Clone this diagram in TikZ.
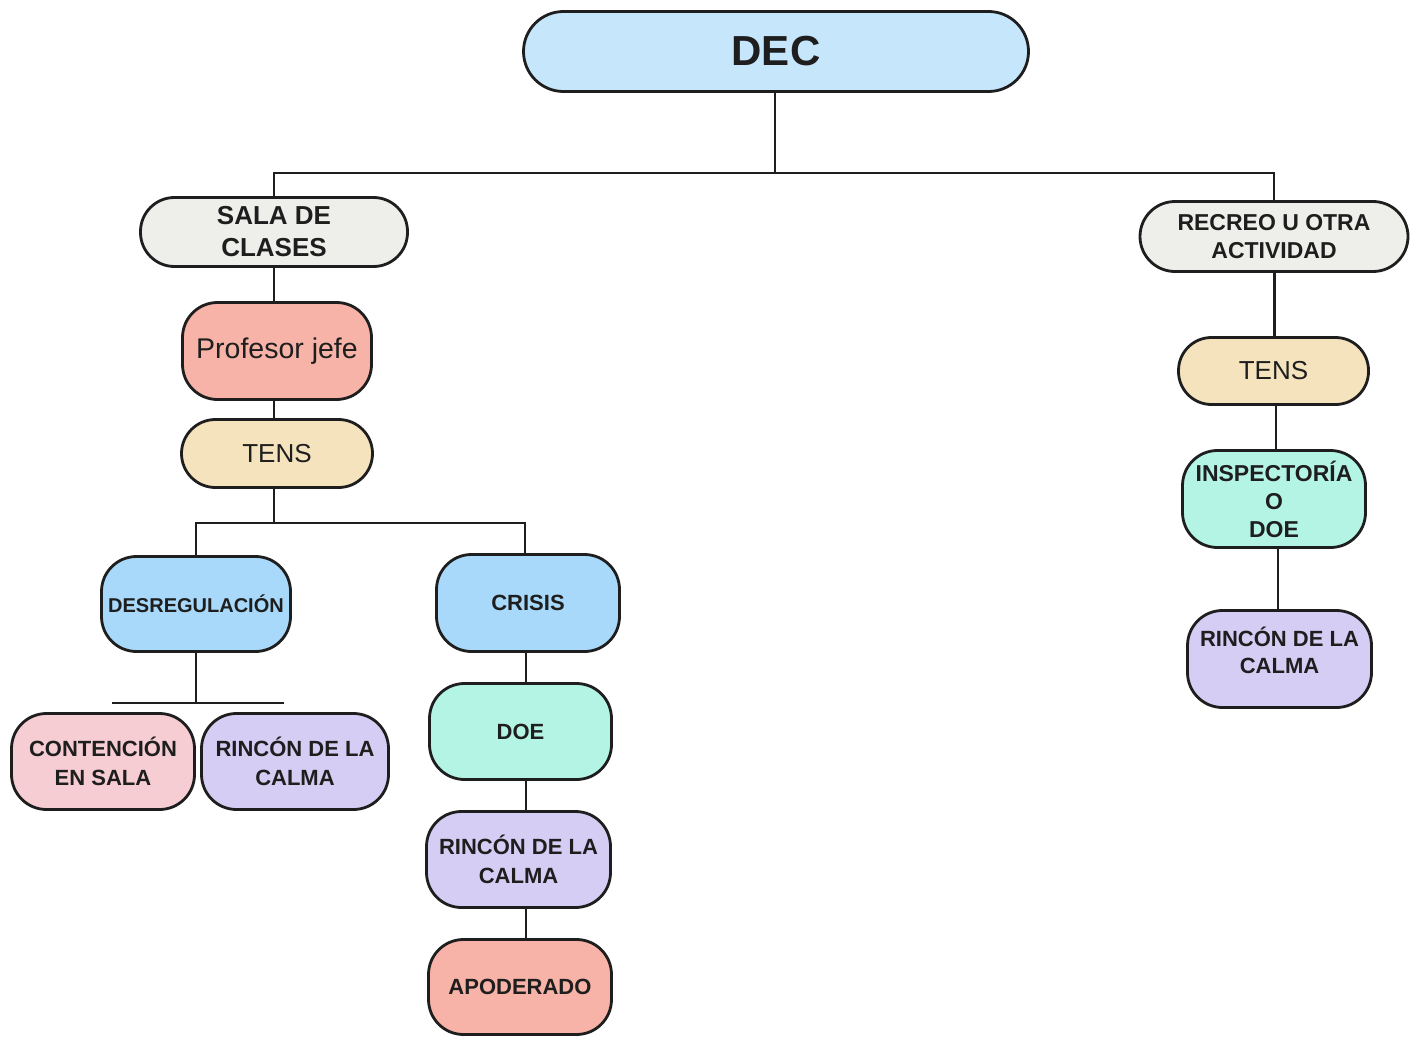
\documentclass[tikz,border=0pt]{standalone}
\usepackage{fontspec}
\setmainfont{Liberation Sans}
\definecolor{decblue}{HTML}{C5E6FB}
\definecolor{grayfill}{HTML}{EEEEEA}
\definecolor{salmon}{HTML}{F7B3A7}
\definecolor{tensfill}{HTML}{F5E3BD}
\definecolor{bluefill}{HTML}{A8D9FA}
\definecolor{pinkfill}{HTML}{F6CDD3}
\definecolor{lavfill}{HTML}{D6CDF4}
\definecolor{mintfill}{HTML}{B4F4E4}
\definecolor{ink}{HTML}{1E1E1E}
\tikzset{
  box/.style={draw=ink, line width=2.8pt, inner sep=0pt, outer sep=0pt, align=center, text=ink},
  fs/.style n args={2}{font=\fontsize{#1}{#2}\selectfont\bfseries},
  fr/.style={font=\fontsize{#1}{#1}\selectfont},
  wire/.style={draw=ink, line width=2.8pt}
}
\begin{document}
\begin{tikzpicture}[x=1pt,y=-1pt]
\useasboundingbox (0,0) rectangle (1414,1038);
% top
\node[box, fill=decblue, minimum width=505pt, minimum height=80pt, rounded corners=40pt, fs={42}{46}] (dec) at (776,51.5) {DEC};
\node[box, fill=grayfill, minimum width=267pt, minimum height=69pt, rounded corners=34pt, fs={26}{32}] (sala) at (274,232) {SALA DE\\CLASES};
\node[box, fill=grayfill, minimum width=268pt, minimum height=70pt, rounded corners=35pt, fs={23}{28}] (recreo) at (1274,236.5) {RECREO U OTRA\\ACTIVIDAD};
% left column
\node[box, fill=salmon, minimum width=189pt, minimum height=97pt, rounded corners=35pt, fr=28.5] (prof) at (277,351) {Profesor jefe};
\node[box, fill=tensfill, minimum width=191pt, minimum height=68pt, rounded corners=34pt, fr=26] (tensL) at (277,453.5) {TENS};
\node[box, fill=bluefill, minimum width=189pt, minimum height=95pt, rounded corners=35pt, fs={20}{24}] (desreg) at (196,604) {DESREGULACIÓN};
\node[box, fill=bluefill, minimum width=183pt, minimum height=97pt, rounded corners=35pt, fs={22}{26}] (crisis) at (528,603) {CRISIS};
\node[box, fill=pinkfill, minimum width=183pt, minimum height=96pt, rounded corners=35pt, fs={22}{29}] (cont) at (103,761.5) {CONTENCIÓN\\EN SALA};
\node[box, fill=lavfill, minimum width=187pt, minimum height=96pt, rounded corners=35pt, fs={22}{29}] (rinL) at (295,761.5) {RINCÓN DE LA\\CALMA};
\node[box, fill=mintfill, minimum width=182pt, minimum height=96pt, rounded corners=35pt, fs={22}{26}] (doe) at (520.5,731.5) {DOE};
\node[box, fill=lavfill, minimum width=184pt, minimum height=96pt, rounded corners=35pt, fs={22}{29}] (rinM) at (518.5,859.5) {RINCÓN DE LA\\CALMA};
\node[box, fill=salmon, minimum width=183pt, minimum height=95pt, rounded corners=35pt, fs={22}{26}] (apod) at (520,987) {APODERADO};
% right column
\node[box, fill=tensfill, minimum width=190pt, minimum height=67pt, rounded corners=33pt, fr=26] (tensR) at (1273.5,371) {TENS};
\node[box, fill=mintfill, minimum width=183pt, minimum height=97pt, rounded corners=35pt, fs={23}{28}] (insp) at (1274,499) {INSPECTORÍA\\O\\DOE};
\node[box, fill=lavfill, minimum width=184pt, minimum height=97pt, rounded corners=35pt, fs={22}{27}] (rinR) at (1279.5,659) {RINCÓN DE LA\\CALMA\\[-9pt]};
% connectors
\coordinate (busA) at (775,173);
\coordinate (colL) at (274,0);
\coordinate (busB) at (274,523);
\coordinate (colD) at (196,0);
\coordinate (colM) at (526,0);
\coordinate (barL) at (112,703);
\coordinate (barR) at (284,703);
\draw[wire] (dec.south -| busA) -- (busA);
\draw[wire] (sala.north) |- (busA) -| (recreo.north);
\draw[wire] (sala.south -| colL) -- (prof.north -| colL);
\draw[wire] (prof.south -| colL) -- (tensL.north -| colL);
\draw[wire] (tensL.south -| colL) -- (busB);
\draw[wire] (desreg.north -| colD) |- (busB) -| (crisis.north -| 525,0);
\draw[wire] (desreg.south -| colD) -- (barL -| colD);
\draw[wire] (barL) -- (barR);
\draw[wire] (crisis.south -| colM) -- (doe.north -| colM);
\draw[wire] (doe.south -| colM) -- (rinM.north -| colM);
\draw[wire] (rinM.south -| colM) -- (apod.north -| colM);
\draw[wire] (recreo.south -| 1274.5,0) -- (tensR.north -| 1274.5,0);
\draw[wire] (tensR.south -| 1276,0) -- (insp.north -| 1276,0);
\draw[wire] (insp.south -| 1278,0) -- (rinR.north -| 1278,0);
\end{tikzpicture}
\end{document}
